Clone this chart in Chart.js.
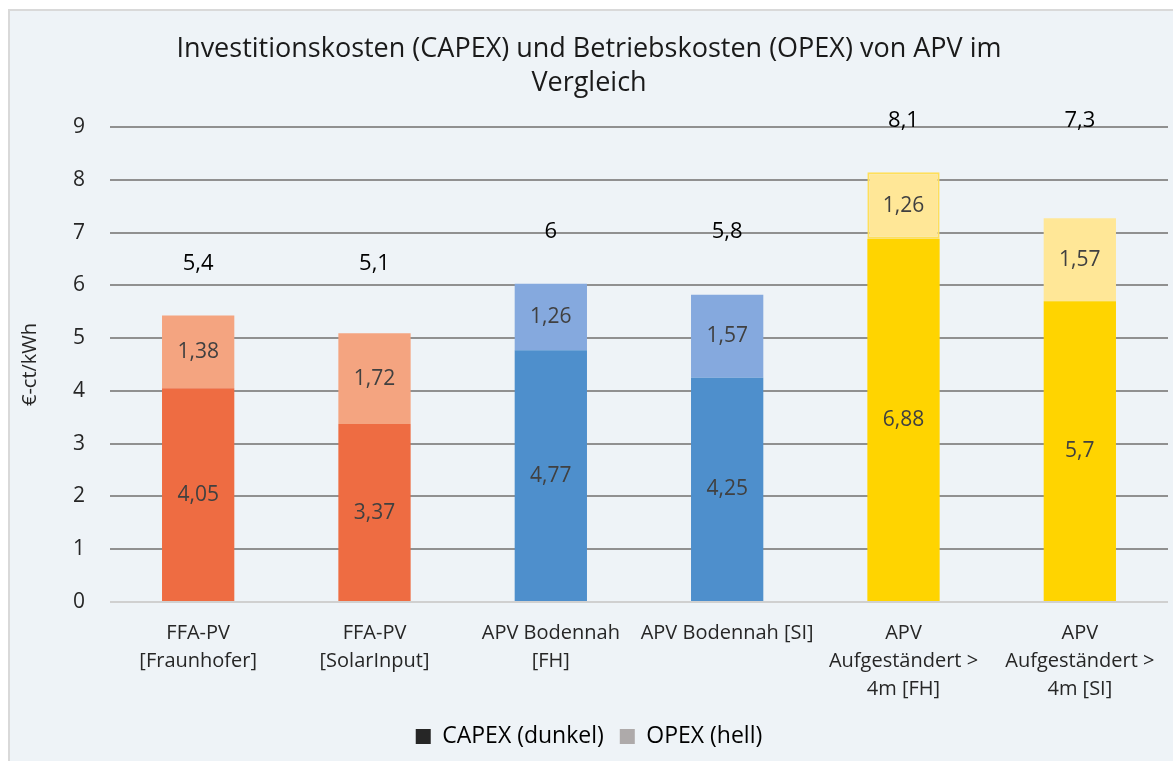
<!DOCTYPE html>
<html>
<head>
<meta charset="utf-8">
<script src="https://cdn.jsdelivr.net/npm/chart.js@4.4.1/dist/chart.umd.min.js"></script>
<style>
  html, body { margin: 0; padding: 0; background: #ffffff; }
  #box {
    position: absolute; left: 8px; top: 9px;
    width: 1163px; height: 750px;
    background: #EEF3F7; border: 2px solid #D9D9D9; border-right: none; border-bottom: none;
  }
  canvas { display: block; }
</style>
</head>
<body>
<div id="box"><canvas id="apvChart" width="1163" height="750"></canvas></div>
<script>
// chart data
const categories = [
    ['FFA-PV', '[Fraunhofer]'],
    ['FFA-PV', '[SolarInput]'],
    ['APV Bodennah', '[FH]'],
    ['APV Bodennah [SI]'],
    ['APV', 'Aufgeständert >', '4m [FH]'],
    ['APV', 'Aufgeständert >', '4m [SI]']
];
const capexValues = [4.05, 3.37, 4.77, 4.25, 6.88, 5.7];
const opexValues = [1.38, 1.72, 1.26, 1.57, 1.26, 1.57];
const totalLabels = ['5,4', '5,1', '6', '5,8', '8,1', '7,3'];
const yTicks = [0, 1, 2, 3, 4, 5, 6, 7, 8, 9];

const capexColors = ['#EE6C42', '#EE6C42', '#4E8FCC', '#4E8FCC', '#FFD400', '#FFD400'];
const opexColors = ['#F4A480', '#F4A480', '#85A9DE', '#85A9DE', '#FFE797', '#FFE797'];

const FONT = '"Open Sans", "DejaVu Sans", sans-serif';

function fmt(v) {
    return String(v).replace('.', ',');
}

// draws the values inside the segments and the totals above the bars
const labelPlugin = {
    id: 'barLabels',
    afterDatasetsDraw(chart) {
        const ctx = chart.ctx;
        ctx.save();
        ctx.textAlign = 'center';
        ctx.textBaseline = 'middle';
        ctx.font = '21px ' + FONT;
        ctx.fillStyle = '#404040';
        chart.data.datasets.forEach((ds, di) => {
            const meta = chart.getDatasetMeta(di);
            meta.data.forEach((bar, i) => {
                ctx.fillText(fmt(ds.data[i]), bar.x, (bar.y + bar.base) / 2);
            });
        });
        // totals: bars of the same colour share one label line
        const top = chart.getDatasetMeta(chart.data.datasets.length - 1);
        ctx.fillStyle = '#000000';
        ctx.font = '22px ' + FONT;
        top.data.forEach((bar, i) => {
            let y = bar.y;
            top.data.forEach((other, j) => {
                if (capexColors[j] === capexColors[i]) y = Math.min(y, other.y);
            });
            ctx.fillText(totalLabels[i], bar.x, y - 52);
        });
        ctx.restore();
    }
};

new Chart(document.getElementById('apvChart').getContext('2d'), {
    type: 'bar',
    data: {
        labels: categories,
        datasets: [
            {
                label: 'CAPEX (dunkel)',
                data: capexValues,
                backgroundColor: capexColors,
                borderWidth: 0,
                barPercentage: 0.41,
                categoryPercentage: 1
            },
            {
                label: 'OPEX (hell)',
                data: opexValues,
                backgroundColor: opexColors,
                borderColor: '#FFDF5A',
                borderWidth: [0, 0, 0, 0, 2, 0],
                borderSkipped: false,
                barPercentage: 0.41,
                categoryPercentage: 1
            }
        ]
    },
    options: {
        responsive: false,
        animation: false,
        layout: { padding: { left: 0, right: 5, top: 0, bottom: 3 } },
        plugins: {
            title: {
                display: true,
                text: ['Investitionskosten (CAPEX) und Betriebskosten (OPEX) von APV im', 'Vergleich'],
                color: '#1A1A1A',
                font: { family: FONT, size: 27, weight: 'normal', lineHeight: 1.24 },
                padding: { top: 22, bottom: 27 }
            },
            legend: {
                position: 'bottom',
                labels: {
                    color: '#262626',
                    font: { family: FONT, size: 23 },
                    boxWidth: 15,
                    boxHeight: 15,
                    padding: 16,
                    generateLabels() {
                        return [
                            { text: 'CAPEX (dunkel)', fillStyle: '#262626', strokeStyle: '#262626', lineWidth: 0, datasetIndex: 0 },
                            { text: 'OPEX (hell)', fillStyle: '#AEAAAA', strokeStyle: '#AEAAAA', lineWidth: 0, datasetIndex: 1 }
                        ];
                    }
                }
            },
            tooltip: { enabled: false }
        },
        scales: {
            x: {
                stacked: true,
                grid: { display: false },
                border: { display: false },
                ticks: {
                    color: '#262626',
                    font: { family: FONT, size: 20, lineHeight: 1.4 },
                    padding: 9,
                    maxRotation: 0,
                    autoSkip: false
                },
                afterFit(scale) { scale.height = 107; }
            },
            y: {
                stacked: true,
                min: 0,
                max: 9,
                afterBuildTicks(scale) { scale.ticks = yTicks.map(v => ({ value: v })); },
                grid: {
                    drawTicks: false,
                    lineWidth: 2,
                    color: ctx => (ctx.tick && ctx.tick.value === 0) ? '#D0D0D0' : '#909090'
                },
                border: { display: false },
                ticks: {
                    color: '#262626',
                    font: { family: FONT, size: 21 },
                    padding: 25
                },
                title: {
                    display: true,
                    text: '€-ct/kWh',
                    color: '#262626',
                    font: { family: FONT, size: 20 },
                    padding: { top: 8, bottom: 0 }
                },
                afterFit(scale) { scale.width = 100; }
            }
        }
    },
    plugins: [labelPlugin]
});
</script>
</body>
</html>
